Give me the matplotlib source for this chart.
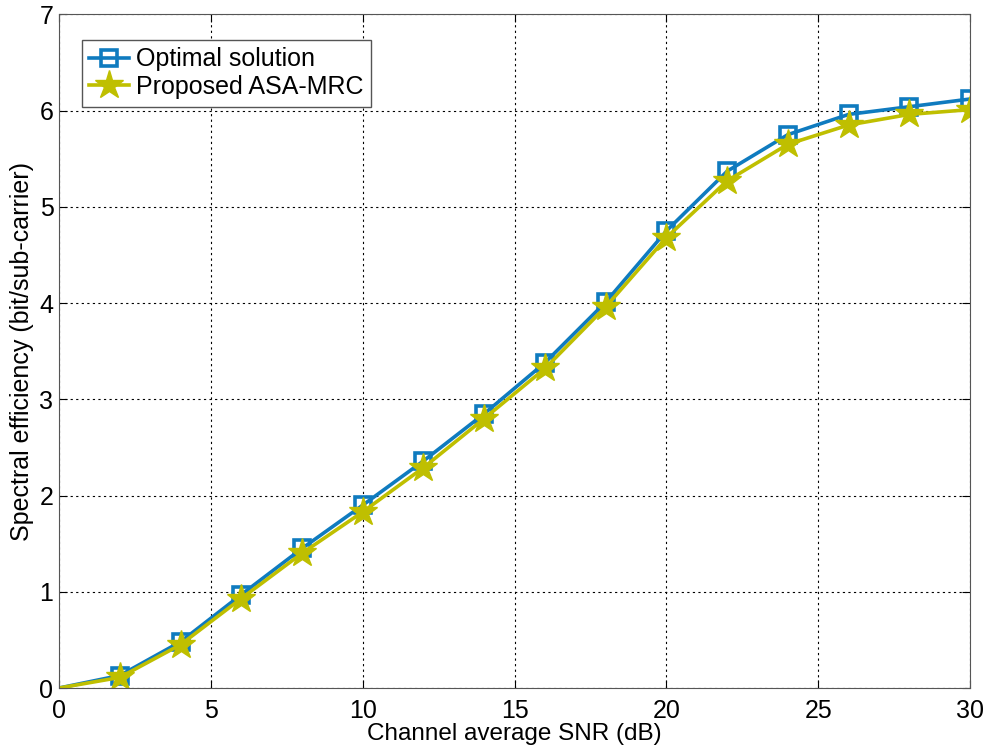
import numpy as np
import matplotlib
matplotlib.use('Agg')
import matplotlib.pyplot as plt

plt.rcParams['font.family'] = ['Liberation Sans', 'DejaVu Sans']

snr = [0, 2, 4, 6, 8, 10, 12, 14, 16, 18, 20, 22, 24, 26, 28, 30]
optimal = [0, 0.13, 0.48, 0.97, 1.45, 1.90, 2.36, 2.85, 3.38, 4.01, 4.75, 5.37, 5.75, 5.96, 6.04, 6.12]
proposed = [0, 0.11, 0.45, 0.93, 1.40, 1.83, 2.29, 2.80, 3.32, 3.96, 4.68, 5.27, 5.65, 5.85, 5.96, 6.01]

blue = '#0f7bbf'
olive = '#bfbf00'

fig = plt.figure(figsize=(9.94, 7.53), dpi=100)
ax = fig.add_axes([0.0594, 0.0863, 0.9166, 0.8947])

ax.plot(snr, optimal, '-s', color=blue, lw=2.6, ms=11, mfc='none', mec=blue, mew=2.6,
        markevery=range(1, len(snr)), label='Optimal solution')
ax.plot(snr, proposed, '-*', color=olive, lw=2.6, ms=21, mfc=olive, mec=olive, mew=1,
        markevery=range(1, len(snr)), label='Proposed ASA-MRC')

ax.set_xlim(0, 30)
ax.set_ylim(0, 7)
ax.set_xticks(np.arange(0, 31, 5))
ax.set_yticks(np.arange(0, 8, 1))
ax.grid(True, linestyle=(0, (2, 3)), color='black', linewidth=0.8)
ax.tick_params(direction='in', top=True, right=True, labelsize=18, length=6)
ax.tick_params(axis='x', pad=8)
ax.tick_params(axis='y', pad=4)
for s in ax.spines.values():
    s.set_color('#555555')

ax.set_xlabel('Channel average SNR (dB)', fontsize=17.5, labelpad=0)
ax.set_ylabel('Spectral efficiency (bit/sub-carrier)', fontsize=18, labelpad=4)

leg = ax.legend(loc='upper left', bbox_to_anchor=(0.025, 0.962), fontsize=18, fancybox=False,
                framealpha=1, edgecolor='#555555', handlelength=1.6, handletextpad=0.25,
                borderpad=0.3, labelspacing=0.15, borderaxespad=0)
leg.get_frame().set_linewidth(1.0)

fig.savefig('out.png', dpi=100)
